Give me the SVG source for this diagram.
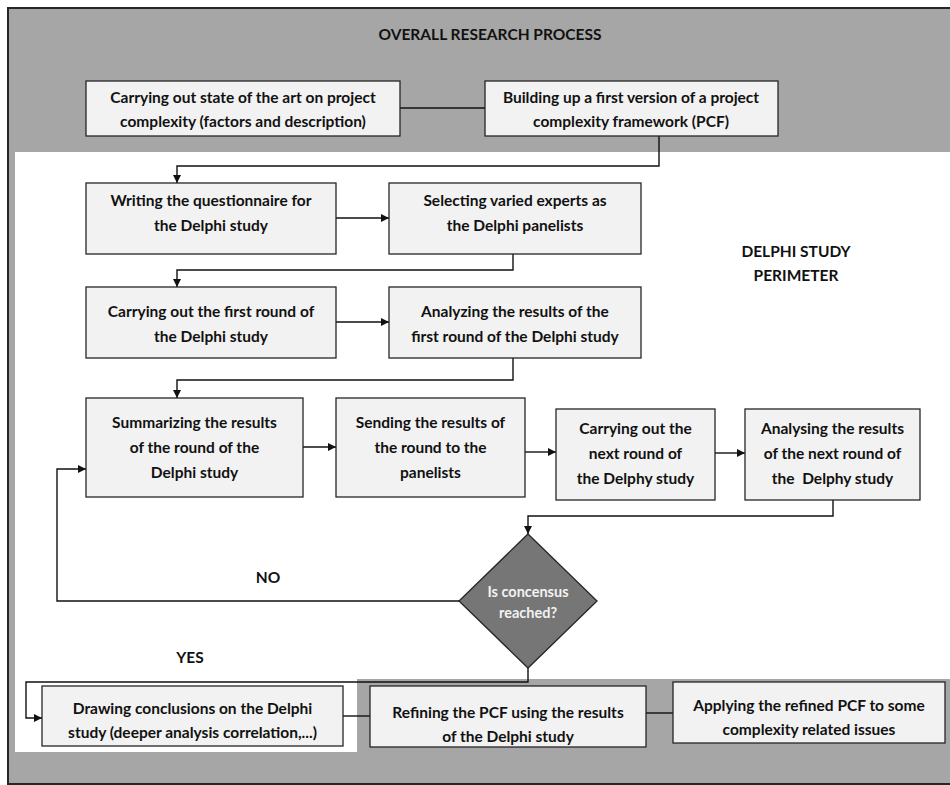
<svg xmlns="http://www.w3.org/2000/svg" width="950" height="785" viewBox="0 0 950 785">
<defs>
<style>
.bg{fill:#a6a6a6;stroke:#262626;stroke-width:2}
.box{fill:#f2f2f2;stroke:#262626;stroke-width:1.3}
.t{font-family:Lato,"Open Sans","Liberation Sans",sans-serif;font-weight:bold;font-size:15.5px;fill:#111;text-anchor:middle}
.c{fill:none;stroke:#111;stroke-width:1.4}
.dt{font-family:Lato,"Open Sans","Liberation Sans",sans-serif;font-weight:bold;font-size:14.5px;fill:#f2f2f2;text-anchor:middle}
</style>
<marker id="ar" viewBox="0 0 10 10" refX="10" refY="5" markerWidth="8" markerHeight="8" markerUnits="userSpaceOnUse" orient="auto">
<path d="M0,0 L10,5 L0,10 z" fill="#111"/>
</marker>
</defs>
<g id="background">
<rect class="bg" x="8" y="8" width="950" height="776"/>
<path d="M15,152 H950 V679 H357 V752 H15 Z" fill="#ffffff"/>
<text class="t" x="490" y="40">OVERALL RESEARCH PROCESS</text>
<text class="t" x="796" y="257">DELPHI STUDY</text>
<text class="t" x="796" y="281">PERIMETER</text>
</g>
<g id="connectors">
<path class="c" d="M400,108 H485"/>
<path class="c" d="M659,136 V166 H177 V183" marker-end="url(#ar)"/>
<path class="c" d="M336,218 H389" marker-end="url(#ar)"/>
<path class="c" d="M513,254 V270 H177 V287" marker-end="url(#ar)"/>
<path class="c" d="M336,322 H389" marker-end="url(#ar)"/>
<path class="c" d="M513,358 V380 H177 V398" marker-end="url(#ar)"/>
<path class="c" d="M303,447 H336" marker-end="url(#ar)"/>
<path class="c" d="M525,452 H556" marker-end="url(#ar)"/>
<path class="c" d="M715,453 H745" marker-end="url(#ar)"/>
<path class="c" d="M833,500 V516 H528 V534" marker-end="url(#ar)"/>
<path class="c" d="M459,601 H57 V469 H86" marker-end="url(#ar)"/>
<path class="c" d="M528,668 V682 H26 V718 H42" marker-end="url(#ar)"/>
<path class="c" d="M343,716 H370"/>
<path class="c" d="M646,713 H673"/>
<text class="t" x="268" y="583">NO</text>
<text class="t" x="190" y="663">YES</text>
</g>
<g id="n1"><rect class="box" x="86" y="81" width="314" height="55"/>
<text class="t" x="243" y="103">Carrying out state of the art on project</text>
<text class="t" x="243" y="127">complexity (factors and description)</text></g>
<g id="n2"><rect class="box" x="485" y="81" width="293" height="55"/>
<text class="t" x="631" y="103">Building up a first version of a project</text>
<text class="t" x="631" y="127">complexity framework (PCF)</text></g>
<g id="n3"><rect class="box" x="86" y="183" width="250" height="71"/>
<text class="t" x="211" y="206">Writing the questionnaire for</text>
<text class="t" x="211" y="231">the Delphi study</text></g>
<g id="n4"><rect class="box" x="389" y="183" width="252" height="71"/>
<text class="t" x="515" y="206">Selecting varied experts as</text>
<text class="t" x="515" y="231">the Delphi panelists</text></g>
<g id="n5"><rect class="box" x="86" y="287" width="250" height="71"/>
<text class="t" x="211" y="317">Carrying out the first round of</text>
<text class="t" x="211" y="342">the Delphi study</text></g>
<g id="n6"><rect class="box" x="389" y="287" width="252" height="71"/>
<text class="t" x="515" y="317">Analyzing the results of the</text>
<text class="t" x="515" y="342">first round of the Delphi study</text></g>
<g id="n7"><rect class="box" x="86" y="398" width="217" height="99"/>
<text class="t" x="194.5" y="428">Summarizing the results</text>
<text class="t" x="194.5" y="453">of the round of the</text>
<text class="t" x="194.5" y="478">Delphi study</text></g>
<g id="n8"><rect class="box" x="336" y="398" width="189" height="99"/>
<text class="t" x="430.5" y="428">Sending the results of</text>
<text class="t" x="430.5" y="453">the round to the</text>
<text class="t" x="430.5" y="478">panelists</text></g>
<g id="n9"><rect class="box" x="556" y="409" width="159" height="91"/>
<text class="t" x="635.5" y="434">Carrying out the</text>
<text class="t" x="635.5" y="459">next round of</text>
<text class="t" x="635.5" y="484">the Delphy study</text></g>
<g id="n10"><rect class="box" x="745" y="409" width="175" height="91"/>
<text class="t" x="832.5" y="434">Analysing the results</text>
<text class="t" x="832.5" y="459">of the next round of</text>
<text class="t" x="832.5" y="484" xml:space="preserve">the  Delphy study</text></g>
<g id="n11"><path d="M528,534 L597,601 L528,668 L459,601 Z" fill="#767676" stroke="#262626" stroke-width="1.3"/>
<text class="dt" x="528" y="597">Is concensus</text>
<text class="dt" x="528" y="618">reached?</text></g>
<g id="n12"><rect class="box" x="42" y="686" width="301" height="60"/>
<text class="t" x="192.5" y="714">Drawing conclusions on the Delphi</text>
<text class="t" x="192.5" y="738">study (deeper analysis correlation,...)</text></g>
<g id="n13"><rect class="box" x="370" y="686" width="276" height="61"/>
<text class="t" x="508" y="718">Refining the PCF using the results</text>
<text class="t" x="508" y="742">of the Delphi study</text></g>
<g id="n14"><rect class="box" x="673" y="682" width="272" height="61"/>
<text class="t" x="809" y="711">Applying the refined PCF to some</text>
<text class="t" x="809" y="735">complexity related issues</text></g>
</svg>
